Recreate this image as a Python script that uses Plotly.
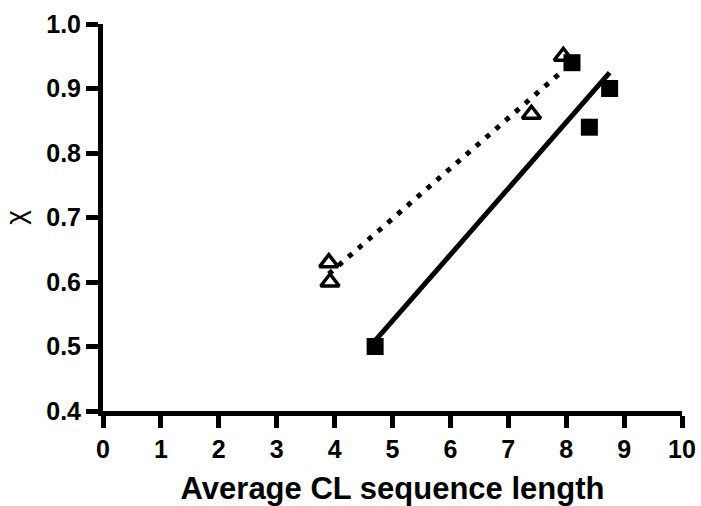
import numpy as np
import plotly.graph_objects as go

# Data
sq_x = [4.7, 8.1, 8.4, 8.75]
sq_y = [0.50, 0.94, 0.84, 0.90]
tri_x = [3.9, 3.92, 7.4, 7.95]
tri_y = [0.63, 0.60, 0.86, 0.95]

x_ticks = list(range(0, 11))
y_ticks = [0.4, 0.5, 0.6, 0.7, 0.8, 0.9, 1.0]
y_ticklabels = ["0.4", "0.5", "0.6", "0.7", "0.8", "0.9", "1.0"]


def fit_line(xs, ys):
    m, b = np.polyfit(xs, ys, 1)
    x0, x1 = min(xs), max(xs)
    return [x0, x1], [m * x0 + b, m * x1 + b]


fx_sq, fy_sq = fit_line(sq_x, sq_y)
fx_tri, fy_tri = fit_line(tri_x, tri_y)

fig = go.Figure()
fig.add_trace(go.Scatter(x=fx_tri, y=fy_tri, mode="lines",
                         line=dict(color="black", width=5, dash="5px,8px"),
                         showlegend=False, hoverinfo="skip"))
fig.add_trace(go.Scatter(x=fx_sq, y=fy_sq, mode="lines",
                         line=dict(color="black", width=5),
                         showlegend=False, hoverinfo="skip"))
fig.add_trace(go.Scatter(x=tri_x, y=tri_y, mode="markers",
                         marker=dict(symbol="triangle-up", size=16, color="white",
                                     line=dict(color="black", width=3.5)),
                         showlegend=False, cliponaxis=False))
fig.add_trace(go.Scatter(x=sq_x, y=sq_y, mode="markers",
                         marker=dict(symbol="square", size=17, color="black",
                                     line=dict(color="black", width=0)),
                         showlegend=False, cliponaxis=False))

font_family = "Liberation Sans, Arial, sans-serif"

fig.update_layout(
    width=701, height=506,
    margin=dict(l=103, r=19, t=24, b=95),
    plot_bgcolor="white", paper_bgcolor="white",
    font=dict(family=font_family, color="black"),
    xaxis=dict(range=[0, 10], tickvals=x_ticks, automargin=False,
               ticktext=["<b>%d</b>" % v for v in x_ticks],
               ticks="outside", ticklen=12,
               tickwidth=5, tickcolor="black", showline=True, linewidth=5,
               linecolor="black", showgrid=False, zeroline=False,
               tickfont=dict(size=25, family=font_family),
               title=dict(text="<b>Average CL sequence length</b>", standoff=18,
                          font=dict(size=31, family=font_family))),
    yaxis=dict(range=[0.4, 1.0], tickvals=y_ticks, automargin=False,
               ticktext=["<b>%s</b>" % t for t in y_ticklabels],
               ticks="outside", ticklen=12, tickwidth=5, tickcolor="black",
               showline=True, linewidth=5, linecolor="black", showgrid=False,
               zeroline=False,
               tickfont=dict(size=25, family=font_family),
               title=dict(text="χ", standoff=14,
                          font=dict(size=28, family=font_family))),
)

fig.write_html("out.html")
